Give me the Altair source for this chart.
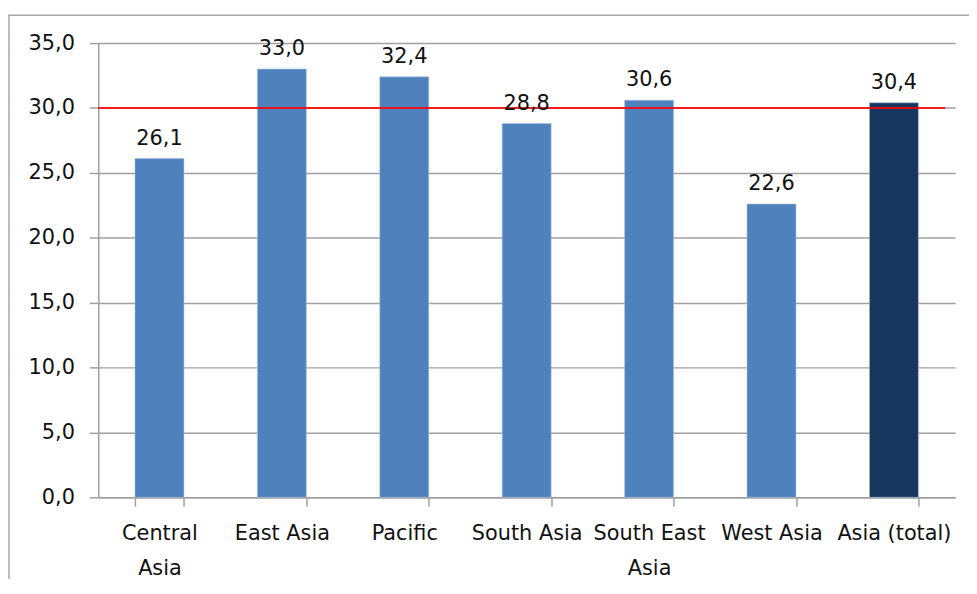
import altair as alt
import pandas as pd

categories = ["Central Asia", "East Asia", "Pacific", "South Asia",
              "South East Asia", "West Asia", "Asia (total)"]
values = [26.1, 33.0, 32.4, 28.8, 30.6, 22.6, 30.4]
kinds = ["region", "region", "region", "region", "region", "region", "total"]
threshold = [30.0]
y_ticks = [0, 5, 10, 15, 20, 25, 30, 35]

df = pd.DataFrame({"region": categories, "value": values, "kind": kinds})

FONT = "DejaVu Sans"
FS = 21
GRID = "#a0a0a0"

label_expr = ("datum.label == 'Central Asia' ? ['Central', 'Asia'] : "
              "datum.label == 'South East Asia' ? ['South East', 'Asia'] : datum.label")

x_enc = alt.X("region:N", sort=categories,
              scale=alt.Scale(paddingInner=0.6, paddingOuter=0.3),
              axis=alt.Axis(title=None, labelAngle=0, labelExpr=label_expr,
                            tickBand="extent", tickSize=9, tickColor=GRID, tickWidth=1.5,
                            domainColor=GRID, domainWidth=1.5,
                            labelPadding=17, labelFont=FONT, labelFontSize=FS,
                            labelColor="#111111", labelLineHeight=35, grid=False))

y_enc = alt.Y("value:Q", scale=alt.Scale(domain=[0, 35], nice=False),
              axis=alt.Axis(title=None, values=y_ticks, grid=True, gridColor=GRID,
                            gridWidth=1.5, tickSize=9, tickColor=GRID, tickWidth=1.5,
                            domainColor=GRID, domainWidth=1.5,
                            labelExpr="replace(format(datum.value, '.1f'), '.', ',')",
                            labelPadding=15, labelFont=FONT, labelFontSize=FS,
                            labelColor="#111111"))

frame = alt.Chart(pd.DataFrame({"a": [0]})).mark_rect(
    filled=False, stroke="#a6a6a6", strokeWidth=1.5
).encode(x=alt.value(-90), x2=alt.value(1000), y=alt.value(-28), y2=alt.value(700))

bars = alt.Chart(df).mark_bar(stroke="#a9c0de", strokeWidth=0.6).encode(
    x=x_enc, y=y_enc,
    color=alt.Color("kind:N", scale=alt.Scale(domain=["region", "total"],
                                              range=["#4f81bd", "#17375e"]),
                    legend=None)
)

rule = alt.Chart(pd.DataFrame({"y": threshold})).mark_rule(
    color="#ff0000", strokeWidth=2, opacity=0.85
).encode(y="y:Q", x=alt.value(0), x2=alt.value(854))

text = alt.Chart(df).transform_calculate(
    lbl="replace(format(datum.value, '.1f'), '.', ',')"
).mark_text(baseline="bottom", dy=-10, font=FONT, fontSize=FS, color="#111111").encode(
    x=alt.X("region:N", sort=categories), y="value:Q", text="lbl:N"
)

chart = alt.layer(frame, bars, rule, text).properties(
    width=864, height=458,
    autosize=alt.AutoSizeParams(type="none"),
    padding={"left": 91, "top": 33, "right": 14, "bottom": 80},
    background="white"
).configure_view(stroke=None)

chart.save("out.html", embed_options={"renderer": "svg", "actions": False})
